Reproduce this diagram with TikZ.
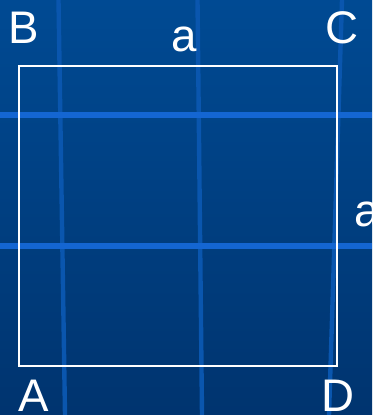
\documentclass[tikz,border=0pt]{standalone}
\usepackage{fontspec}
\setmainfont{Liberation Sans}
\definecolor{bgtop}{HTML}{004A93}
\definecolor{bgbottom}{HTML}{00346F}
\definecolor{gridblue}{HTML}{1466D2}
\definecolor{griddim}{HTML}{0A56AE}
\tikzset{>=latex}
\tikzset{lbl/.style={text=white, font=\fontsize{26}{30}\selectfont, inner sep=0pt}}

\begin{document}
\begin{tikzpicture}[x=0.02cm, y=-0.02cm]
    \useasboundingbox (0,0) rectangle (372,415);
    \shade [top color=bgtop, bottom color=bgbottom] (0,0) rectangle (372,415);

    % background lines
    \draw [griddim, line width=2.5] (58.5,0) -- (65,415);
    \draw [griddim, line width=2.5] (197.5,0) -- (202,415);
    \draw [griddim, line width=2.5] (342,0) -- (329,415);
    \draw [gridblue, line width=3] (0,115) -- (372,115);
    \draw [gridblue, line width=3] (0,246) -- (372,246);

    \coordinate (A) at (19,366);
    \coordinate (B) at (19,66);
    \coordinate (C) at (337,66);
    \coordinate (D) at (337,366);

    \draw [white, line width=1.5] (A) -- (B) -- (C) -- (D) -- cycle;

    \node[lbl] (lB) at (23.5,27.5) {B};
    \node[lbl] (lC) at (342,27.5) {C};
    \node[lbl] (lA) at (34,396) {A};
    \node[lbl] (lD) at (338,396) {D};
    \node[lbl] (lab) at (184,39) {a};
    \node[lbl] (lcd) at (367,214) {a};

\end{tikzpicture}
\end{document}
